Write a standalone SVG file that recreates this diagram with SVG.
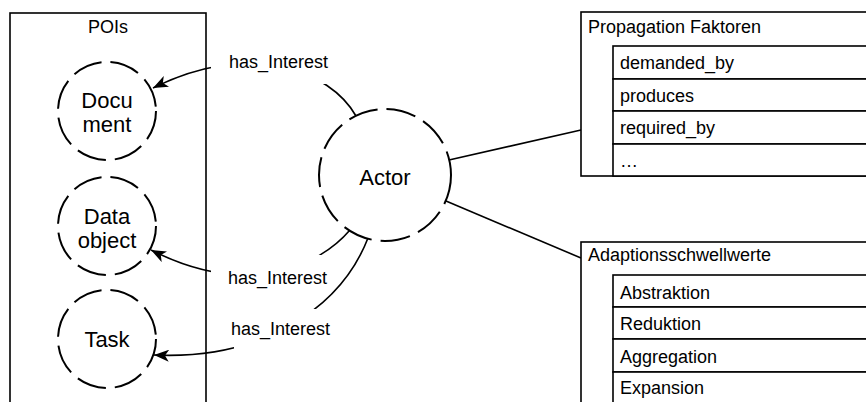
<svg xmlns="http://www.w3.org/2000/svg" width="866" height="402" viewBox="0 0 866 402">
  <style>
    text { font-family: "Liberation Sans", Arial, Helvetica, sans-serif; fill: #000; }
    .lbl { font-size: 18px; }
    .node { font-size: 22px; text-anchor: middle; }
    .box { fill: #fff; stroke: #000; stroke-width: 1.6; }
    .circ { fill: #fff; stroke: #000; stroke-width: 2; stroke-dasharray: 30 9; }
    .edge { fill: none; stroke: #000; stroke-width: 1.6; }
    .bg { fill: #fff; stroke: none; }
  </style>
  <defs>
    <!-- classic notched arrowhead -->
    <marker id="arrow" markerUnits="userSpaceOnUse" markerWidth="16" markerHeight="12" refX="15" refY="6" orient="auto">
      <path d="M0,0 L15,6 L0,12 L4,6 Z" fill="#000"/>
    </marker>
  </defs>

  <rect width="866" height="402" fill="#fff"/>

  <!-- POIs container -->
  <g id="pois">
    <rect class="box" x="10" y="13" width="196" height="400"/>
    <text class="lbl" x="108" y="33" text-anchor="middle">POIs</text>
  </g>

  <!-- connectors -->
  <g id="connectors">
    <path class="edge" d="M356,116 C330,70 250,40 153,88" marker-end="url(#arrow)"/>
    <path class="edge" d="M350,230 C320,265 250,300 151,250" marker-end="url(#arrow)"/>
    <path class="edge" d="M368,238 C340,310 260,360 154,355" marker-end="url(#arrow)"/>
    <line class="edge" x1="449" y1="160" x2="581" y2="130"/>
    <line class="edge" x1="446" y1="201" x2="581" y2="258"/>
  </g>

  <!-- edge labels -->
  <g id="edge-labels">
    <rect class="bg" x="211" y="48" width="118" height="36"/>
    <text class="lbl" x="229" y="68">has_Interest</text>
    <rect class="bg" x="211" y="255" width="121" height="33"/>
    <text class="lbl" x="228" y="284">has_Interest</text>
    <rect class="bg" x="234" y="309" width="100" height="41"/>
    <text class="lbl" x="231" y="335">has_Interest</text>
  </g>

  <g id="document">
    <circle class="circ" cx="107" cy="111" r="49"/>
    <text class="node" x="107" y="108">Docu</text>
    <text class="node" x="107" y="132">ment</text>
  </g>

  <g id="data-object">
    <circle class="circ" cx="107" cy="226" r="49"/>
    <text class="node" x="107" y="224">Data</text>
    <text class="node" x="107" y="248">object</text>
  </g>

  <g id="task">
    <circle class="circ" cx="107" cy="339" r="49"/>
    <text class="node" x="107" y="347">Task</text>
  </g>

  <g id="actor">
    <circle class="circ" cx="385" cy="175" r="66"/>
    <text class="node" x="385" y="185">Actor</text>
  </g>

  <g id="propagation-faktoren">
    <rect class="box" x="581" y="12" width="300" height="164"/>
    <text class="lbl" x="588" y="33">Propagation Faktoren</text>
    <rect class="box" x="613" y="46" width="270" height="33"/>
    <rect class="box" x="613" y="79" width="270" height="32"/>
    <rect class="box" x="613" y="111" width="270" height="33"/>
    <rect class="box" x="613" y="144" width="270" height="32"/>
    <text class="lbl" x="620" y="69">demanded_by</text>
    <text class="lbl" x="620" y="102">produces</text>
    <text class="lbl" x="620" y="134">required_by</text>
    <text class="lbl" x="620" y="167">…</text>
  </g>

  <g id="adaptionsschwellwerte">
    <rect class="box" x="581" y="242" width="300" height="180"/>
    <text class="lbl" x="588" y="261">Adaptionsschwellwerte</text>
    <rect class="box" x="613" y="275" width="270" height="32"/>
    <rect class="box" x="613" y="307" width="270" height="32"/>
    <rect class="box" x="613" y="339" width="270" height="33"/>
    <rect class="box" x="613" y="372" width="270" height="40"/>
    <text class="lbl" x="620" y="299">Abstraktion</text>
    <text class="lbl" x="620" y="330">Reduktion</text>
    <text class="lbl" x="620" y="363">Aggregation</text>
    <text class="lbl" x="620" y="394">Expansion</text>
  </g>
</svg>
